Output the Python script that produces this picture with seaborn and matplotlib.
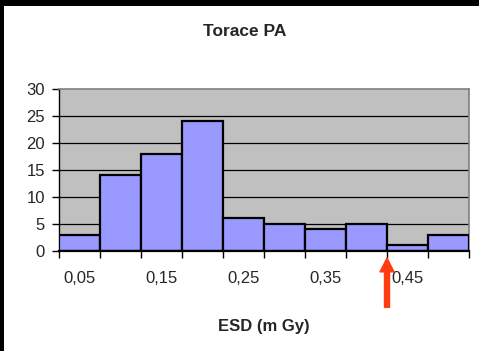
import matplotlib
matplotlib.use("Agg")
import matplotlib.pyplot as plt
import matplotlib.patches as mpatches
import seaborn as sns
import pandas as pd

# Histogram of entrance surface dose, chest PA
bin_centers = ["0,05", "0,10", "0,15", "0,20", "0,25", "0,30", "0,35", "0,40", "0,45", "0,50"]
counts = [3, 14, 18, 24, 6, 5, 4, 5, 1, 3]
y_ticks = [0, 5, 10, 15, 20, 25, 30]
reference_edge = 7.5  # boundary between the 0,40 and 0,45 classes

sns.set_theme(style="white")
plt.rcParams["font.family"] = ["Liberation Sans", "DejaVu Sans"]

fig = plt.figure(figsize=(4.79, 3.51), dpi=100)
fig.patch.set_facecolor("white")
# black frame on the left and top edges
fig.patches.append(mpatches.Rectangle((0, 0), 4 / 479, 1, transform=fig.transFigure,
                                      facecolor="black", edgecolor="none", zorder=10))
fig.patches.append(mpatches.Rectangle((0, 1 - 5.5 / 351), 1, 5.5 / 351, transform=fig.transFigure,
                                      facecolor="black", edgecolor="none", zorder=10))

ax = fig.add_axes([59 / 479, 100.3 / 351, 410 / 479, 161.7 / 351])
ax.set_facecolor("#C0C0C0")

df = pd.DataFrame({"bin": bin_centers, "count": counts})
sns.barplot(data=df, x="bin", y="count", ax=ax, width=1.0, color="#9999FF",
            saturation=1, edgecolor="black", linewidth=1.6, zorder=3)

ax.set_xlim(-0.5, len(counts) - 0.5)
ax.set_ylim(0, 30)
ax.set_yticks(y_ticks)
ax.set_yticklabels([str(v) for v in y_ticks], fontsize=12)
for v in y_ticks[1:-1]:
    ax.axhline(v, color="black", lw=0.9, zorder=1)

# tick marks at class boundaries, labels at every other class centre
ax.set_xticks([i - 0.5 for i in range(len(counts) + 1)])
ax.set_xticklabels([""] * (len(counts) + 1))
ax.set_xticks(list(range(0, len(counts), 2)), minor=True)
ax.set_xticklabels([bin_centers[i] for i in range(0, len(counts), 2)], minor=True, fontsize=12)
ax.tick_params(axis="x", which="major", length=5, width=1, color="black", direction="out", bottom=True)
ax.tick_params(axis="x", which="minor", length=0, pad=14.5)
ax.tick_params(axis="y", length=5, width=1, color="black", direction="out", left=True, pad=5)

ax.set_xlabel("ESD (m Gy)", fontsize=12, fontweight="bold", va="center")
ax.xaxis.set_label_coords(0.5, (250.7 - 326.5) / 161.7)
ax.set_ylabel("")
ax.set_title("Torace PA", fontsize=12.5, fontweight="bold", va="center",
             x=(245 - 59) / 410, y=(250.7 - 31.5) / 161.7, pad=0)

ax.spines["left"].set_color("black")
ax.spines["left"].set_linewidth(1)
ax.spines["bottom"].set_color("black")
ax.spines["bottom"].set_linewidth(1.6)
ax.spines["bottom"].set_zorder(4)
for s in ("top", "right"):
    ax.spines[s].set_color("#808080")
    ax.spines[s].set_linewidth(1.2)

# red arrow pointing at the reference level
ax.annotate("", xy=(reference_edge, -0.045), xycoords=ax.get_xaxis_transform(),
            xytext=(reference_edge, -0.35), textcoords=ax.get_xaxis_transform(),
            annotation_clip=False,
            arrowprops=dict(arrowstyle="simple,head_length=0.5,head_width=0.5,tail_width=0.18",
                            mutation_scale=20, color="#FF3B0F", shrinkA=0, shrinkB=0))

fig.savefig("out.png", dpi=100)
